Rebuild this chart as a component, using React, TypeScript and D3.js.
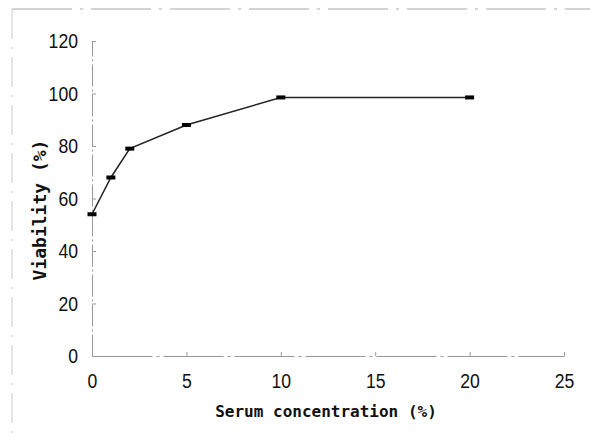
import React, { useEffect, useRef } from 'react';
import * as d3 from 'd3';

// serum concentration (%) and viability (%)
const concentrations = [0, 1, 2, 5, 10, 20];
const viability = [54, 68, 79, 88, 98.5, 98.5];
const xTicks = [0, 5, 10, 15, 20, 25];
const yTicks = [0, 20, 40, 60, 80, 100, 120];

const App = () => {
  const svgRef = useRef<SVGSVGElement>(null);

  useEffect(() => {
    const svg = d3.select(svgRef.current);
    svg.selectAll('*').remove();

    const x = d3.scaleLinear().domain([0, 25]).range([92, 564]);
    const y = d3.scaleLinear().domain([0, 120]).range([356, 41]);
    const tickFont = '"Liberation Sans", Arial, sans-serif';
    const monoFont = '"DejaVu Sans Mono", "Liberation Mono", monospace';
    const squeeze = 0.84; // tick digits in the scan are condensed

    // scanned page frame (faint)
    svg.append('line')
      .attr('x1', 12).attr('x2', 590).attr('y1', 9).attr('y2', 9)
      .attr('stroke', '#aaa').attr('stroke-width', 1).attr('stroke-dasharray', '60,8,3,8');
    svg.append('line')
      .attr('x1', 12).attr('x2', 12).attr('y1', 9).attr('y2', 441)
      .attr('stroke', '#ccc').attr('stroke-width', 1).attr('stroke-dasharray', '30,8,2,8');

    // axes
    const yAxis = d3.axisLeft(y).tickValues(yTicks).tickSize(4).tickSizeOuter(0).tickPadding(10);
    const gy = svg.append('g').attr('transform', `translate(${x(0)},0)`).call(yAxis);
    gy.select('.domain').attr('stroke', '#999').attr('stroke-dasharray', '22,3,2,3');
    gy.selectAll('line').attr('stroke', '#999').attr('x2', 4);
    gy.selectAll('text')
      .attr('font-family', tickFont).attr('font-size', 21).attr('fill', '#111')
      .attr('x', -14 / squeeze)
      .attr('transform', `scale(${squeeze},1)`);

    const xAxis = d3.axisBottom(x).tickValues(xTicks).tickSize(-4).tickSizeOuter(0).tickPadding(17);
    const gx = svg.append('g').attr('transform', `translate(0,${y(0)})`).call(xAxis);
    gx.select('.domain').attr('stroke', '#999').attr('stroke-dasharray', '60,4,3,4');
    gx.selectAll('line').attr('stroke', '#999');
    gx.selectAll('text')
      .attr('font-family', tickFont).attr('font-size', 21).attr('fill', '#111')
      .attr('transform', `scale(${squeeze},1)`);

    // axis titles
    svg.append('text')
      .attr('x', 326).attr('y', 417)
      .attr('text-anchor', 'middle')
      .attr('font-family', monoFont).attr('font-size', 16).attr('font-weight', 'bold').attr('fill', '#111')
      .text('Serum concentration (%)');
    svg.append('text')
      .attr('transform', 'translate(46,210) rotate(-90)')
      .attr('text-anchor', 'middle')
      .attr('font-family', monoFont).attr('font-size', 18).attr('font-weight', 'bold').attr('fill', '#111')
      .text('Viability (%)');

    const data = concentrations.map((c, i) => ({ c, v: viability[i] }));

    const line = d3.line<{ c: number; v: number }>()
      .x(d => x(d.c))
      .y(d => y(d.v));

    svg.append('path')
      .datum(data)
      .attr('d', line)
      .attr('fill', 'none')
      .attr('stroke', '#222')
      .attr('stroke-width', 1.5);

    svg.selectAll('.pt')
      .data(data)
      .enter()
      .append('rect')
      .attr('class', 'pt')
      .attr('x', d => x(d.c) - 4.5)
      .attr('y', d => y(d.v) - 2)
      .attr('width', 9)
      .attr('height', 4)
      .attr('fill', '#000');
  }, []);

  return (
    <svg ref={svgRef} width={590} height={441}
      style={{ position: 'absolute', left: 0, top: 0, background: '#fff' }} />
  );
};

export default App;
